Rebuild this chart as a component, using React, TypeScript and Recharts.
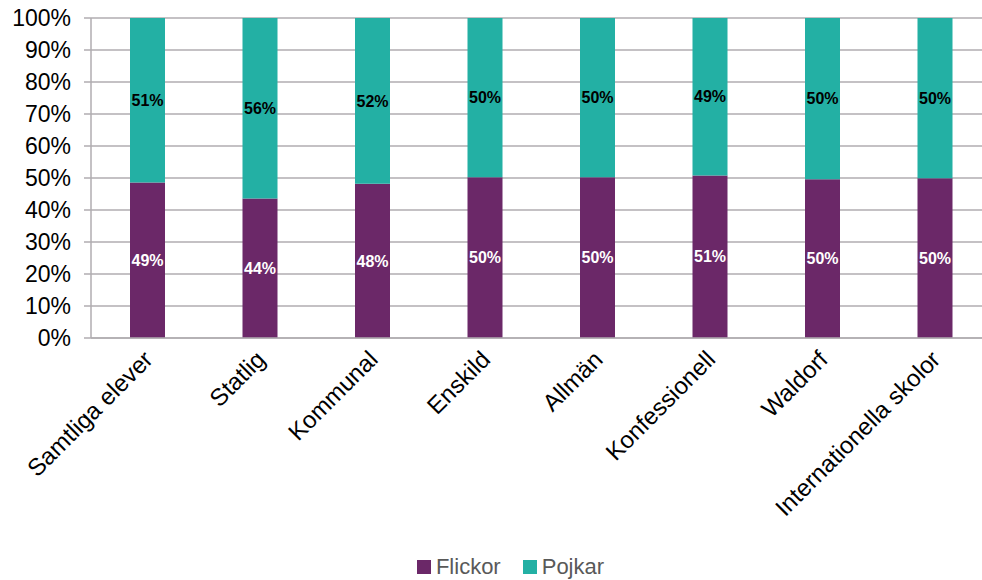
import React from "react";
import { BarChart, Bar, XAxis, YAxis, CartesianGrid, Legend, LabelList } from "recharts";

const categories = [
  "Samtliga elever",
  "Statlig",
  "Kommunal",
  "Enskild",
  "Allmän",
  "Konfessionell",
  "Waldorf",
  "Internationella skolor",
];
const flickor = [48.6, 43.6, 48.2, 50.2, 50.2, 50.8, 49.6, 49.9];
const pojkar = [51.4, 56.4, 51.8, 49.8, 49.8, 49.2, 50.4, 50.1];
const yTicks = [0, 10, 20, 30, 40, 50, 60, 70, 80, 90, 100];

const PURPLE = "#6B2868";
const TEAL = "#23B0A4";
const FONT = "'Liberation Sans', Arial, sans-serif";

const data = categories.map((name, i) => ({ name, flickor: flickor[i], pojkar: pojkar[i] }));

const series = [
  { key: "flickor", name: "Flickor", color: PURPLE, labelColor: "#ffffff" },
  { key: "pojkar", name: "Pojkar", color: TEAL, labelColor: "#000000" },
];

const AngledTick = (props: any) => {
  const { x, y, payload } = props;
  return (
    <g transform={`translate(${x + 7},${y + 15})`}>
      <text
        x={0}
        y={0}
        textAnchor="end"
        transform="rotate(-45)"
        fill="#000"
        fontSize={24}
        fontFamily={FONT}
      >
        {payload.value}
      </text>
    </g>
  );
};

const LegendContent = () => (
  <div
    style={{
      display: "flex",
      justifyContent: "center",
      alignItems: "center",
      gap: 22,
      fontFamily: FONT,
      fontSize: 22,
      color: "#595959",
      paddingTop: 16,
      paddingLeft: 30,
    }}
  >
    {series.map((s) => (
      <div key={s.key} style={{ display: "flex", alignItems: "center", gap: 5 }}>
        <span style={{ width: 14, height: 14, background: s.color, display: "inline-block" }} />
        <span>{s.name}</span>
      </div>
    ))}
  </div>
);

export default function App() {
  return (
    <div style={{ width: 982, height: 580, overflow: "hidden", position: "relative" }}>
      <style>{`body{margin:0}`}</style>
      <BarChart
        width={991}
        height={580}
        data={data}
        margin={{ top: 18, right: 0, bottom: 0, left: 0 }}
        barSize={35}
      >
        <CartesianGrid vertical={false} stroke="#b0adb0" strokeWidth={1.5} />
        <XAxis
          dataKey="name"
          height={200}
          interval={0}
          tickLine={false}
          axisLine={{ stroke: "#b0adb0", strokeWidth: 1.5 }}
          tick={<AngledTick />}
        />
        <YAxis
          width={91}
          domain={[0, 100]}
          ticks={yTicks}
          allowDataOverflow
          tickFormatter={(v: number) => `${v}%`}
          tickSize={7}
          tickMargin={13}
          tickLine={{ stroke: "#b0adb0", strokeWidth: 1.5 }}
          axisLine={{ stroke: "#b0adb0", strokeWidth: 1.5 }}
          tick={{ fill: "#000", fontSize: 23, fontFamily: FONT }}
        />
        <Legend verticalAlign="bottom" height={42} content={<LegendContent />} />
        {series.map((s) => (
          <Bar
            key={s.key}
            dataKey={s.key}
            name={s.name}
            stackId="a"
            fill={s.color}
            isAnimationActive={false}
          >
            <LabelList
              dataKey={s.key}
              position="center"
              formatter={(v: number) => `${Math.round(v)}%`}
              fill={s.labelColor}
              fontSize={16}
              fontWeight="bold"
              fontFamily={FONT}
            />
          </Bar>
        ))}
      </BarChart>
    </div>
  );
}
